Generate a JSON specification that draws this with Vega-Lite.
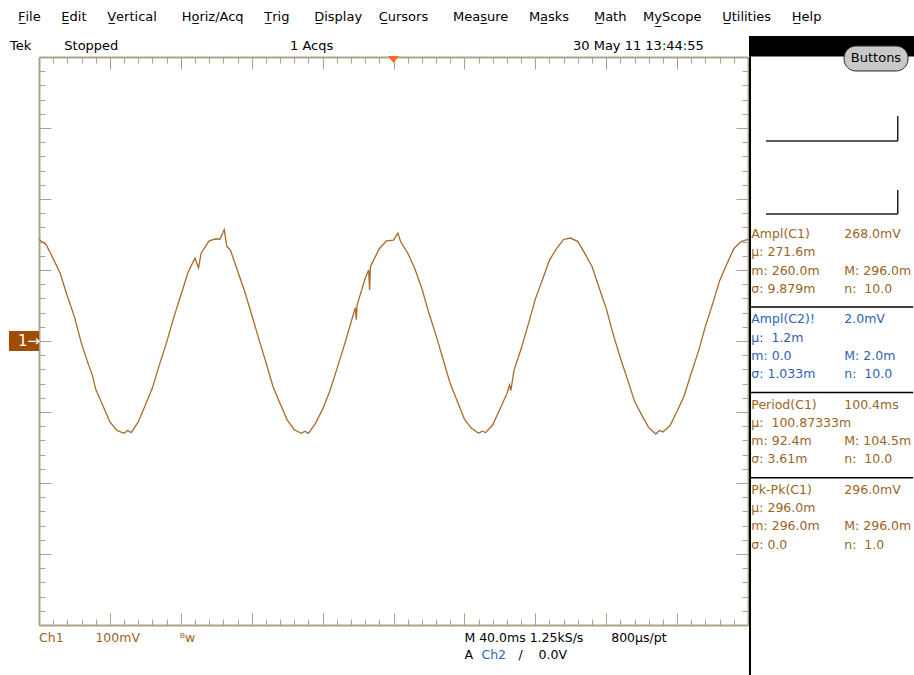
{
  "$schema": "https://vega.github.io/schema/vega-lite/v6.json",
  "padding": 0,
  "background": "white",
  "spacing": 0,
  "bounds": "flush",
  "config": {"view": {"stroke": null}, "font": "DejaVu Sans", "concat": {"spacing": 0}},
  "datasets": {
    "wave": [
      {"t":0,"v":143},{"t":4,"v":136},{"t":8,"v":116},{"t":12,"v":95},{"t":16,"v":63},{"t":20,"v":34},{"t":24,"v":-4},{"t":28,"v":-34},{"t":30,"v":-47},{"t":32,"v":-68},{"t":36,"v":-91},{"t":40,"v":-114},{"t":44,"v":-126},{"t":46,"v":-128},{"t":48,"v":-130},{"t":50,"v":-126},{"t":52,"v":-129},{"t":56,"v":-114},{"t":60,"v":-90},{"t":64,"v":-66},{"t":68,"v":-33},{"t":72,"v":-2},{"t":76,"v":33},{"t":80,"v":64},{"t":84,"v":96},{"t":88,"v":117},{"t":90,"v":103},{"t":91.5,"v":124},{"t":96,"v":141},{"t":100,"v":144},{"t":102,"v":143},{"t":104.5,"v":157},{"t":106,"v":133},{"t":108,"v":128},{"t":112,"v":99},{"t":116,"v":70},{"t":120,"v":37},{"t":124,"v":3},{"t":128,"v":-30},{"t":132,"v":-64},{"t":136,"v":-88},{"t":140,"v":-111},{"t":144,"v":-125},{"t":148,"v":-130},{"t":150,"v":-127},{"t":152,"v":-130},{"t":156,"v":-116},{"t":160,"v":-96},{"t":164,"v":-71},{"t":168,"v":-40},{"t":172,"v":-8},{"t":176,"v":26},{"t":178.5,"v":47},{"t":179,"v":30},{"t":179.5,"v":51},{"t":184,"v":88},{"t":186,"v":100},{"t":186.5,"v":72},{"t":187,"v":105},{"t":188,"v":110},{"t":192,"v":130},{"t":196,"v":141},{"t":200,"v":142},{"t":202.5,"v":152},{"t":204,"v":140},{"t":208,"v":124},{"t":212,"v":102},{"t":216,"v":74},{"t":220,"v":39},{"t":224,"v":8},{"t":228,"v":-26},{"t":232,"v":-60},{"t":236,"v":-85},{"t":240,"v":-110},{"t":244,"v":-123},{"t":248,"v":-130},{"t":250,"v":-127},{"t":252,"v":-129},{"t":256,"v":-118},{"t":260,"v":-96},{"t":264,"v":-74},{"t":265.5,"v":-62},{"t":266.2,"v":-70},{"t":268,"v":-41},{"t":272,"v":-11},{"t":276,"v":23},{"t":280,"v":59},{"t":284,"v":86},{"t":288,"v":114},{"t":292,"v":130},{"t":296,"v":143},{"t":300,"v":145},{"t":304,"v":140},{"t":308,"v":123},{"t":312,"v":105},{"t":316,"v":75},{"t":320,"v":46},{"t":324,"v":9},{"t":328,"v":-24},{"t":332,"v":-54},{"t":336,"v":-85},{"t":340,"v":-104},{"t":344,"v":-122},{"t":348,"v":-131},{"t":350,"v":-126},{"t":352,"v":-128},{"t":356,"v":-119},{"t":360,"v":-99},{"t":364,"v":-77},{"t":368,"v":-45},{"t":372,"v":-15},{"t":376,"v":21},{"t":380,"v":52},{"t":384,"v":85},{"t":388,"v":108},{"t":392,"v":130},{"t":396,"v":140},{"t":400,"v":143}
    ],
    "meas": [
      {"slot":0,"left":"Ampl(C1)","right":"268.0mV","ch":"C1"},
      {"slot":3,"left":"µ: 271.6m","right":"","ch":"C1"},
      {"slot":6,"left":"m: 260.0m","right":"M: 296.0m","ch":"C1"},
      {"slot":9,"left":"σ: 9.879m","right":"n:\u00a0 10.0","ch":"C1"},
      {"slot":14,"left":"Ampl(C2)!","right":"2.0mV","ch":"C2"},
      {"slot":17,"left":"µ:\u00a0 1.2m","right":"","ch":"C2"},
      {"slot":20,"left":"m: 0.0","right":"M: 2.0m","ch":"C2"},
      {"slot":23,"left":"σ: 1.033m","right":"n:\u00a0 10.0","ch":"C2"},
      {"slot":28,"left":"Period(C1)","right":"100.4ms","ch":"C1"},
      {"slot":31,"left":"µ:\u00a0 100.87333m","right":"","ch":"C1"},
      {"slot":34,"left":"m: 92.4m","right":"M: 104.5m","ch":"C1"},
      {"slot":37,"left":"σ: 3.61m","right":"n:\u00a0 10.0","ch":"C1"},
      {"slot":42,"left":"Pk-Pk(C1)","right":"296.0mV","ch":"C1"},
      {"slot":45,"left":"µ: 296.0m","right":"","ch":"C1"},
      {"slot":48,"left":"m: 296.0m","right":"M: 296.0m","ch":"C1"},
      {"slot":51,"left":"σ: 0.0","right":"n:\u00a0 1.0","ch":"C1"}
    ],
    "seps": [{"slot":12},{"slot":26},{"slot":40}]
  },
  "vconcat": [
    {
      "width": 914, "height": 57,
      "layer": [
        {
          "data": {"values": [{"label": "F\u0332ile\u00a0\u00a0\u00a0\u00a0\u00a0E\u0332dit\u00a0\u00a0\u00a0\u00a0\u00a0V\u0332ertical\u00a0\u00a0\u00a0\u00a0\u00a0\u00a0Ho\u0332riz/Acq\u00a0\u00a0\u00a0\u00a0\u00a0T\u0332rig\u00a0\u00a0\u00a0\u00a0\u00a0\u00a0D\u0332isplay\u00a0\u00a0\u00a0\u00a0C\u0332ursors\u00a0\u00a0\u00a0\u00a0\u00a0\u00a0Meas\u0332ure\u00a0\u00a0\u00a0\u00a0\u00a0Ma\u0332sks\u00a0\u00a0\u00a0\u00a0\u00a0\u00a0M\u0332ath\u00a0\u00a0\u00a0\u00a0My\u0332Scope\u00a0\u00a0\u00a0\u00a0\u00a0U\u0332tilities\u00a0\u00a0\u00a0\u00a0\u00a0H\u0332elp"}]},
          "mark": {"type": "text", "align": "left", "baseline": "middle", "dx": 18, "fontSize": 13, "color": "#000000"},
          "encoding": {
            "x": {"datum": 0, "type": "quantitative", "scale": {"domain": [0, 1], "nice": false, "zero": false}, "axis": null},
            "y": {"datum": 1, "type": "quantitative", "scale": {"domain": [0.4035, 2.4035], "nice": false, "zero": false, "reverse": true}, "axis": null},
            "text": {"field": "label"}
          }
        },
        {
          "data": {"values": [{"label": "Tek\u00a0\u00a0\u00a0\u00a0\u00a0\u00a0\u00a0\u00a0Stopped"}]},
          "mark": {"type": "text", "align": "left", "baseline": "middle", "dx": 10, "fontSize": 13, "color": "#000000"},
          "encoding": {
            "x": {"datum": 0, "type": "quantitative", "axis": null},
            "y": {"datum": 2, "type": "quantitative", "axis": null},
            "text": {"field": "label"}
          }
        },
        {
          "data": {"values": [{"label": "1 Acqs"}]},
          "mark": {"type": "text", "align": "left", "baseline": "middle", "fontSize": 13, "color": "#000000"},
          "encoding": {
            "x": {"datum": 0.3173, "type": "quantitative", "axis": null},
            "y": {"datum": 2, "type": "quantitative", "axis": null},
            "text": {"field": "label"}
          }
        },
        {
          "data": {"values": [{"label": "30 May 11 13:44:55"}]},
          "mark": {"type": "text", "align": "left", "baseline": "middle", "fontSize": 13, "color": "#000000"},
          "encoding": {
            "x": {"datum": 0.6269, "type": "quantitative", "axis": null},
            "y": {"datum": 2, "type": "quantitative", "axis": null},
            "text": {"field": "label"}
          }
        }
      ]
    },
    {
      "spacing": 0,
      "bounds": "flush",
      "hconcat": [
        {
          "width": 39, "height": 568,
          "data": {"values": [{"label": ""}]},
          "mark": {"type": "text"},
          "encoding": {"text": {"field": "label"}}
        },
        {
          "width": 709, "height": 568,
          "resolve": {"axis": {"x": "independent", "y": "independent"}},
          "layer": [
            {
              "data": {"name": "wave"},
              "mark": {"type": "line", "color": "#a86b2c", "strokeWidth": 1.3},
              "encoding": {
                "x": {"field": "t", "type": "quantitative", "scale": {"domain": [0, 400], "nice": false, "zero": false},
                  "axis": {"orient": "bottom", "values": [0,8,16,24,32,40,48,56,64,72,80,88,96,104,112,120,128,136,144,152,160,168,176,184,192,200,208,216,224,232,240,248,256,264,272,280,288,296,304,312,320,328,336,344,352,360,368,376,384,392,400], "labels": false, "title": null, "grid": false, "domainColor": "#aca38b", "domainWidth": 2, "tickColor": "#aca38b", "tickWidth": 1, "tickSize": {"condition": {"test": "datum.value % 40 === 0", "value": -12}, "value": -6}}},
                "y": {"field": "v", "type": "quantitative", "scale": {"domain": [-400, 400], "nice": false, "zero": false},
                  "axis": {"orient": "left", "values": [-400,-380,-360,-340,-320,-300,-280,-260,-240,-220,-200,-180,-160,-140,-120,-100,-80,-60,-40,-20,0,20,40,60,80,100,120,140,160,180,200,220,240,260,280,300,320,340,360,380,400], "labels": false, "title": null, "grid": false, "domainColor": "#aca38b", "domainWidth": 2, "tickColor": "#aca38b", "tickWidth": 1, "tickSize": {"condition": {"test": "datum.value % 100 === 0", "value": -12}, "value": -6}}}
              }
            },
            {
              "data": {"values": [{"trigger": "A"}]},
              "mark": {"type": "point", "shape": "M-1,-0.2L1,-0.2L0,1.1Z", "size": 121, "filled": true, "color": "#ff6b1a", "opacity": 1},
              "encoding": {
                "x": {"datum": 200, "type": "quantitative",
                  "axis": {"orient": "top", "values": [0,8,16,24,32,40,48,56,64,72,80,88,96,104,112,120,128,136,144,152,160,168,176,184,192,200,208,216,224,232,240,248,256,264,272,280,288,296,304,312,320,328,336,344,352,360,368,376,384,392,400], "labels": false, "title": null, "grid": false, "domainColor": "#aca38b", "domainWidth": 2, "tickColor": "#aca38b", "tickWidth": 1, "tickSize": {"condition": {"test": "datum.value % 40 === 0", "value": -12}, "value": -6}}},
                "y": {"datum": 400, "type": "quantitative",
                  "axis": {"orient": "right", "values": [-400,-380,-360,-340,-320,-300,-280,-260,-240,-220,-200,-180,-160,-140,-120,-100,-80,-60,-40,-20,0,20,40,60,80,100,120,140,160,180,200,220,240,260,280,300,320,340,360,380,400], "labels": false, "title": null, "grid": false, "domainColor": "#aca38b", "domainWidth": 2, "tickColor": "#aca38b", "tickWidth": 1, "tickSize": {"condition": {"test": "datum.value % 100 === 0", "value": -12}, "value": -6}}}
              }
            },
            {
              "data": {"values": [{"channel": "1"}]},
              "mark": {"type": "point", "shape": "M-3,-1L0,-1L0,1L-3,1Z", "size": 400, "filled": true, "color": "#a04d06", "opacity": 1, "strokeWidth": 0},
              "encoding": {
                "x": {"datum": 0, "type": "quantitative", "axis": null},
                "y": {"datum": 0, "type": "quantitative", "axis": null}
              }
            },
            {
              "data": {"values": [{"label": "1\u2192"}]},
              "mark": {"type": "text", "align": "left", "baseline": "middle", "dx": -21, "fontSize": 15, "color": "#ffffff"},
              "encoding": {
                "x": {"datum": 0, "type": "quantitative", "axis": null},
                "y": {"datum": 0, "type": "quantitative", "axis": null},
                "text": {"field": "label"}
              }
            },
            {
              "data": {"values": [{"label": "Ch1\u00a0\u00a0\u00a0\u00a0\u00a0\u00a0\u00a0\u00a0100mV\u00a0\u00a0\u00a0\u00a0\u00a0\u00a0\u00a0\u00a0\u00a0\u00a0\u1d2ew"}]},
              "mark": {"type": "text", "align": "left", "baseline": "middle", "dy": 12.5, "fontSize": 12.5, "color": "#9a6524"},
              "encoding": {
                "x": {"datum": 0, "type": "quantitative", "axis": null},
                "y": {"datum": -400, "type": "quantitative", "axis": null},
                "text": {"field": "label"}
              }
            },
            {
              "data": {"values": [{"label": "M 40.0ms 1.25kS/s\u00a0\u00a0\u00a0\u00a0\u00a0\u00a0\u00a0800µs/pt"}]},
              "mark": {"type": "text", "align": "left", "baseline": "middle", "dy": 12.5, "fontSize": 12.5, "color": "#000000"},
              "encoding": {
                "x": {"datum": 240, "type": "quantitative", "axis": null},
                "y": {"datum": -400, "type": "quantitative", "axis": null},
                "text": {"field": "label"}
              }
            },
            {
              "data": {"values": [{"label": "A"}]},
              "mark": {"type": "text", "align": "left", "baseline": "middle", "dy": 30, "fontSize": 12.5, "color": "#000000"},
              "encoding": {
                "x": {"datum": 240, "type": "quantitative", "axis": null},
                "y": {"datum": -400, "type": "quantitative", "axis": null},
                "text": {"field": "label"}
              }
            },
            {
              "data": {"values": [{"label": "Ch2"}]},
              "mark": {"type": "text", "align": "left", "baseline": "middle", "dx": 17, "dy": 30, "fontSize": 12.5, "color": "#2f62b4"},
              "encoding": {
                "x": {"datum": 240, "type": "quantitative", "axis": null},
                "y": {"datum": -400, "type": "quantitative", "axis": null},
                "text": {"field": "label"}
              }
            },
            {
              "data": {"values": [{"label": "/\u00a0\u00a0\u00a0\u00a00.0V"}]},
              "mark": {"type": "text", "align": "left", "baseline": "middle", "dx": 54, "dy": 30, "fontSize": 12.5, "color": "#000000"},
              "encoding": {
                "x": {"datum": 240, "type": "quantitative", "axis": null},
                "y": {"datum": -400, "type": "quantitative", "axis": null},
                "text": {"field": "label"}
              }
            }
          ]
        },
        {
          "width": 166, "height": 618,
          "layer": [
            {
              "data": {"values": [{}]},
              "mark": {"type": "rect", "color": "#000000"},
              "encoding": {
                "x": {"datum": 0.12, "type": "quantitative", "scale": {"domain": [0, 20], "nice": false, "zero": false}, "axis": null},
                "x2": {"datum": 20},
                "y": {"datum": -32.49, "type": "quantitative", "scale": {"domain": [-29.045, 72.37], "nice": false, "zero": false, "reverse": true}, "axis": null},
                "y2": {"datum": -29.13}
              }
            },
            {
              "data": {"values": [{}]},
              "mark": {"type": "rule", "color": "#000000", "strokeWidth": 2},
              "encoding": {
                "x": {"datum": 0.24, "type": "quantitative", "axis": null},
                "y": {"datum": -29.13, "type": "quantitative", "axis": null},
                "y2": {"datum": 72.37}
              }
            },
            {
              "data": {"values": [{}]},
              "mark": {"type": "rect", "fill": "#c8c8c8", "stroke": "#2a2a2a", "strokeWidth": 1, "cornerRadius": 12},
              "encoding": {
                "x": {"datum": 11.57, "type": "quantitative", "axis": null},
                "x2": {"datum": 19.28},
                "y": {"datum": -30.85, "type": "quantitative", "axis": null},
                "y2": {"datum": -26.75}
              }
            },
            {
              "data": {"values": [{"label": "Buttons"}]},
              "mark": {"type": "text", "align": "center", "baseline": "middle", "fontSize": 13, "color": "#000000"},
              "encoding": {
                "x": {"datum": 15.42, "type": "quantitative", "axis": null},
                "y": {"datum": -28.8, "type": "quantitative", "axis": null},
                "text": {"field": "label"}
              }
            },
            {
              "data": {"values": [{}]},
              "mark": {"type": "rule", "color": "#222222", "strokeWidth": 1.5},
              "encoding": {
                "x": {"datum": 2.17, "type": "quantitative", "axis": null},
                "x2": {"datum": 18.04},
                "y": {"datum": -15.26, "type": "quantitative", "axis": null}
              }
            },
            {
              "data": {"values": [{}]},
              "mark": {"type": "rule", "color": "#222222", "strokeWidth": 1.5},
              "encoding": {
                "x": {"datum": 18.04, "type": "quantitative", "axis": null},
                "y": {"datum": -19.36, "type": "quantitative", "axis": null},
                "y2": {"datum": -15.26}
              }
            },
            {
              "data": {"values": [{}]},
              "mark": {"type": "rule", "color": "#222222", "strokeWidth": 1.5},
              "encoding": {
                "x": {"datum": 2.17, "type": "quantitative", "axis": null},
                "x2": {"datum": 18.04},
                "y": {"datum": -3.28, "type": "quantitative", "axis": null}
              }
            },
            {
              "data": {"values": [{}]},
              "mark": {"type": "rule", "color": "#222222", "strokeWidth": 1.5},
              "encoding": {
                "x": {"datum": 18.04, "type": "quantitative", "axis": null},
                "y": {"datum": -7.22, "type": "quantitative", "axis": null},
                "y2": {"datum": -3.28}
              }
            },
            {
              "data": {"name": "seps"},
              "mark": {"type": "rule", "color": "#000000", "strokeWidth": 1.5},
              "encoding": {
                "x": {"datum": 0.24, "type": "quantitative", "axis": null},
                "x2": {"datum": 19.9},
                "y": {"field": "slot", "type": "quantitative", "axis": null}
              }
            },
            {
              "data": {"name": "meas"},
              "mark": {"type": "text", "align": "left", "baseline": "middle", "fontSize": 12.5},
              "encoding": {
                "x": {"datum": 0.4, "type": "quantitative", "axis": null},
                "y": {"field": "slot", "type": "quantitative", "axis": null},
                "text": {"field": "left"},
                "color": {"field": "ch", "type": "nominal", "scale": {"domain": ["C1", "C2"], "range": ["#9a6524", "#2f62b4"]}, "legend": null}
              }
            },
            {
              "data": {"name": "meas"},
              "mark": {"type": "text", "align": "left", "baseline": "middle", "fontSize": 12.5},
              "encoding": {
                "x": {"datum": 11.6, "type": "quantitative", "axis": null},
                "y": {"field": "slot", "type": "quantitative", "axis": null},
                "text": {"field": "right"},
                "color": {"field": "ch", "type": "nominal", "legend": null}
              }
            }
          ]
        }
      ]
    }
  ]
}
